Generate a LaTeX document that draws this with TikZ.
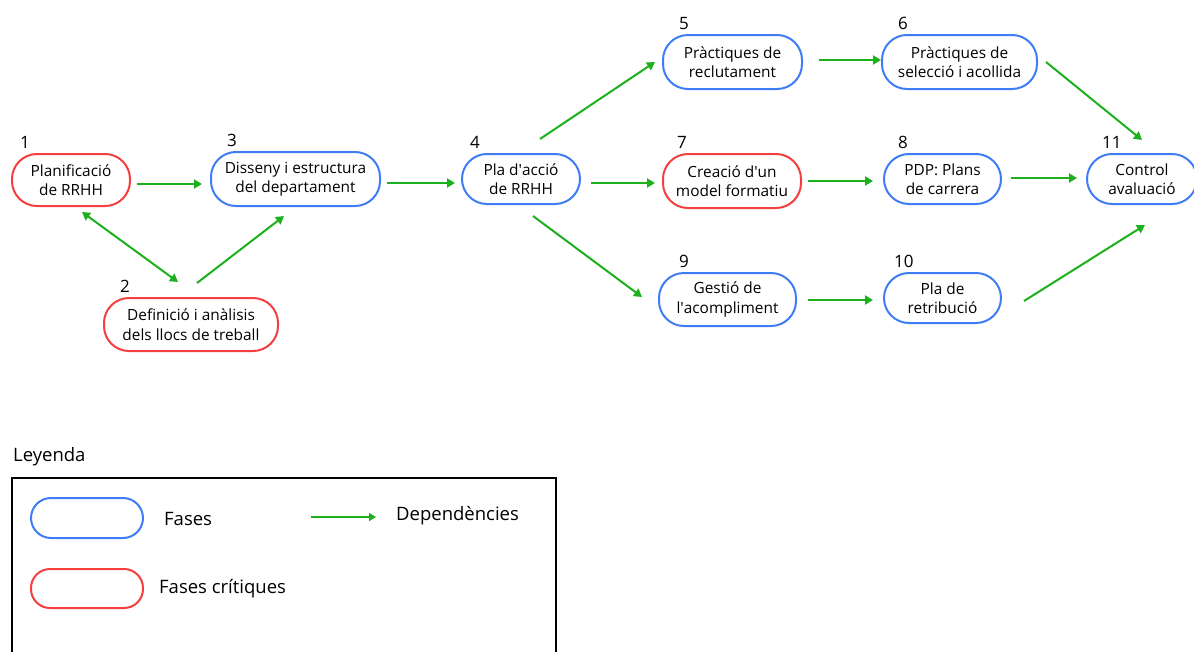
\documentclass[tikz,border=0pt]{standalone}
\usepackage{fontspec}
\setmainfont{Open Sans}
\usepackage{xcolor}
\usepackage{tikz}
\usetikzlibrary{shapes,arrows.meta,positioning,calc}
\definecolor{phaseblue}{RGB}{62, 125, 245}
\definecolor{criticalred}{RGB}{245, 62, 62}
\definecolor{depgreen}{RGB}{28, 176, 28}

\begin{document}
\begin{tikzpicture}[
    x=1pt, y=-1pt,
    phase/.style={rectangle, draw=phaseblue, line width=2pt, rounded corners=25pt, align=center, minimum height=50pt, inner xsep=2pt, font=\fontsize{15.4}{19.5}\selectfont},
    critical/.style={phase, draw=criticalred},
    num/.style={inner sep=0pt, anchor=south west, font=\fontsize{17}{17}\selectfont},
    dep/.style={-{Triangle[length=8pt,width=9pt]}, line width=2pt, color=depgreen},
    legtext/.style={inner sep=0pt, anchor=west, font=\fontsize{18.5}{20}\selectfont}
]
\useasboundingbox (0,0) rectangle (1194,651);

% Phases
\node[critical, minimum width=118pt, minimum height=52pt] (plan) at (71,180) {Planificació\\de RRHH};
\node[critical, minimum width=174pt, minimum height=53pt] (def) at (191,324.5) {Definició i anàlisis\\dels llocs de treball};
\node[phase, minimum width=169pt, minimum height=54pt] (dis) at (295.5,179) {Disseny i estructura\\del departament};
\node[phase, minimum width=118pt] (accio) at (521,179) {Pla d\textquotesingle acció\\de RRHH};
\node[phase, minimum width=139pt, minimum height=54pt] (recl) at (732.5,62) {Pràctiques de\\reclutament};
\node[phase, minimum width=155pt, minimum height=54pt] (sel) at (959.5,62) {Pràctiques de\\selecció i acollida};
\node[critical, minimum width=138pt, minimum height=54pt] (form) at (732,181) {Creació d\textquotesingle un\\model formatiu};
\node[phase, minimum width=117pt] (pdp) at (942.5,179) {PDP: Plans\\de carrera};
\node[phase, minimum width=137pt, minimum height=53pt] (gest) at (727.5,299.5) {Gestió de\\l\textquotesingle acompliment};
\node[phase, minimum width=117pt] (retr) at (942.5,298) {Pla de\\retribució};
\node[phase, minimum width=110pt] (ctrl) at (1142,179) {Control\\avaluació};

% Phase numbers
\node[num, above right=4pt and 9pt of plan.north west] (n1) {1};
\node[num, above right=4pt and 17pt of def.north west] {2};
\node[num, above right=4pt and 17pt of dis.north west] {3};
\node[num, above right=4pt and 9pt of accio.north west] {4};
\node[num, above right=4pt and 17pt of recl.north west] {5};
\node[num, above right=4pt and 17pt of sel.north west] {6};
\node[num, above right=4pt and 15pt of form.north west] {7};
\node[num, above right=4pt and 15pt of pdp.north west] {8};
\node[num, above right=4pt and 21pt of gest.north west] {9};
\node[num, above right=4pt and 11pt of retr.north west] {10};
\node[num, above right=4pt and 16pt of ctrl.north west] {11};

% Dependencies
\draw[dep] ([shift={(6,4)}]plan.east) -- ([shift={(-8,5)}]dis.west);
\draw[dep, {Triangle[length=8pt,width=9pt]}-{Triangle[length=8pt,width=9pt]}] ([shift={(11,5)}]plan.south) -- ([shift={(-13,-15)}]def.north);
\draw[dep] ([shift={(6,-14)}]def.north) -- ([shift={(-11.5,9)}]dis.south);
\draw[dep] ([shift={(6,4)}]dis.east) -- ([shift={(-6,4)}]accio.west);
\draw[dep] ([shift={(19,-14)}]accio.north) -- ([shift={(-7,0)}]recl.west);
\draw[dep] ([shift={(10,4)}]accio.east) -- ([shift={(-7,2)}]form.west);
\draw[dep] ([shift={(12,11)}]accio.south) -- ([shift={(-16,-2.5)}]gest.west);
\draw[dep] ([shift={(16,-2)}]recl.east) -- ([shift={(0,-2)}]sel.west);
\draw[dep] ([shift={(8,0)}]sel.east) -- ([shift={(0,-13)}]ctrl.north);
\draw[dep] ([shift={(6,0)}]form.east) -- ([shift={(-10,2)}]pdp.west);
\draw[dep] ([shift={(9,-1)}]pdp.east) -- ([shift={(-9,-1)}]ctrl.west);
\draw[dep] ([shift={(11,0.5)}]gest.east) -- ([shift={(-10,2)}]retr.west);
\draw[dep] ([shift={(22,3)}]retr.east) -- ([shift={(3,20)}]ctrl.south);

% Legend
\node[legtext, anchor=north west] (leyenda) at (13,447) {Leyenda};
\draw[line width=1.2pt] (12,478) rectangle (556,670);
\node[phase, minimum width=112pt, minimum height=40pt, rounded corners=20pt] (legphase) at (87,518) {};
\node[critical, minimum width=112pt, minimum height=39pt, rounded corners=19pt] (legcrit) at (87,588.5) {};
\node[legtext] (legfases) at (164,519) {Fases};
\node[legtext] (legcrittext) at (159,589) {Fases crítiques};
\node[legtext] (legdep) at (396,516) {Dependències};
\coordinate (legarrow) at (311,517);
\draw[dep, line width=1.6pt, -{Triangle[length=7pt,width=8pt]}] (legarrow) -- ([shift={(-20,1)}]legdep.west);

\end{tikzpicture}
\end{document}
